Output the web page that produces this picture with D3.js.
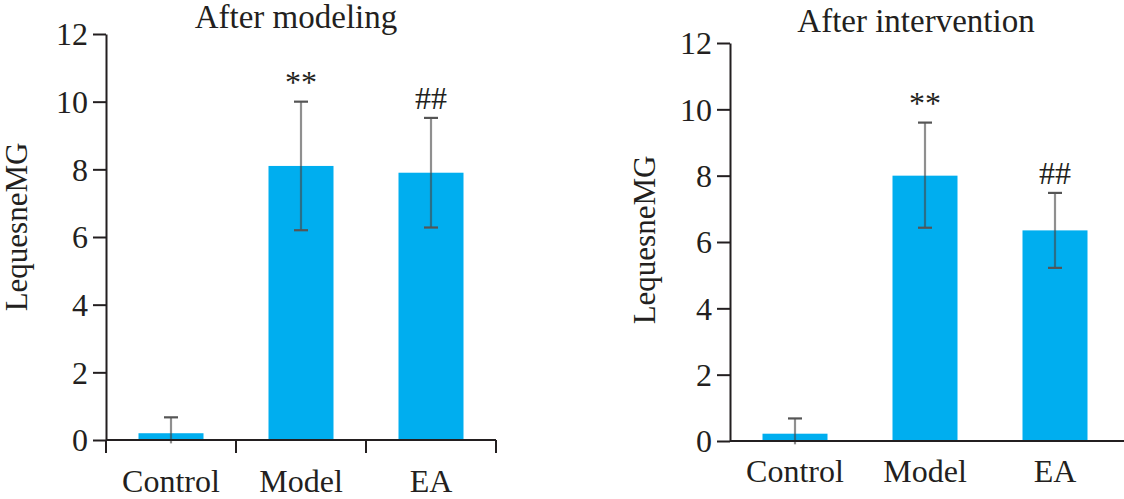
<!DOCTYPE html>
<html>
<head>
<meta charset="utf-8">
<script src="https://cdn.jsdelivr.net/npm/d3@7"></script>
<style>
  body { margin: 0; background: #fff; }
  svg text { font-family: "Liberation Serif", "Times New Roman", serif; fill: #231f20; }
  .axis path, .axis line { stroke: #231f20; stroke-width: 2; }
</style>
</head>
<body>
<div id="chart"></div>
<script>
// groups and values
var groups = ["Control", "Model", "EA"];
var yTicks = [0, 2, 4, 6, 8, 10, 12];

var modelingMean = [0.2, 8.1, 7.9];
var modelingLow = [-0.1, 6.2, 6.28];
var modelingHigh = [0.67, 10.0, 9.52];
var modelingMarks = ["", "**", "##"];

var interventionMean = [0.22, 8.0, 6.35];
var interventionLow = [-0.1, 6.43, 5.22];
var interventionHigh = [0.68, 9.6, 7.48];
var interventionMarks = ["", "**", "##"];

var serif = '"Liberation Serif", "Times New Roman", serif';

var svg = d3.select("#chart").append("svg")
    .attr("width", 1124)
    .attr("height", 499);

function drawPanel(p) {
    var x = d3.scaleBand().domain(groups).range([p.left, p.right]).paddingInner(0.5).paddingOuter(0.25);
    var y = d3.scaleLinear().domain([0, 12]).range([p.bottom, p.top]);
    var g = svg.append("g");

    var rows = groups.map(function(d, i) {
        return { name: d, mean: p.mean[i], low: p.low[i], high: p.high[i], mark: p.marks[i] };
    });

    // bars
    g.selectAll(".bar").data(rows).enter().append("rect")
        .attr("x", function(d) { return x(d.name); })
        .attr("width", x.bandwidth())
        .attr("y", function(d) { return y(d.mean); })
        .attr("height", function(d) { return y(0) - y(d.mean); })
        .attr("fill", "#00aeef");

    // error bars
    var err = g.selectAll(".err").data(rows).enter().append("g")
        .attr("transform", function(d) { return "translate(" + (x(d.name) + x.bandwidth() / 2) + ",0)"; });
    err.append("line")
        .attr("y1", function(d) { return y(d.low); })
        .attr("y2", function(d) { return y(d.high); })
        .attr("stroke", "#444").attr("stroke-opacity", 0.6).attr("stroke-width", 2.2);
    err.append("line")
        .attr("x1", -7).attr("x2", 7)
        .attr("y1", function(d) { return y(d.high); })
        .attr("y2", function(d) { return y(d.high); })
        .attr("stroke", "#555").attr("stroke-width", 2.2);
    err.filter(function(d) { return d.low > 0; }).append("line")
        .attr("x1", -7).attr("x2", 7)
        .attr("y1", function(d) { return y(d.low); })
        .attr("y2", function(d) { return y(d.low); })
        .attr("stroke", "#555").attr("stroke-width", 2.2);

    // significance marks
    err.append("text")
        .attr("y", function(d) { return y(d.high) - 9; })
        .attr("text-anchor", "middle")
        .style("font-size", "32px")
        .text(function(d) { return d.mark; });

    // y axis
    var yAxis = g.append("g").attr("class", "axis")
        .attr("transform", "translate(" + p.left + ",0)")
        .call(d3.axisLeft(y).tickValues(yTicks).tickSize(13).tickSizeOuter(0).tickPadding(5));
    yAxis.attr("font-family", serif);
    yAxis.selectAll("text")
        .style("font-family", serif)
        .style("font-size", "32px")
        .attr("dy", "0.34em");

    // x axis line
    g.append("line")
        .attr("x1", p.left).attr("x2", p.axisEnd)
        .attr("y1", y(0)).attr("y2", y(0))
        .attr("stroke", "#231f20").attr("stroke-width", 2);

    if (p.xTicks) {
        var bounds = d3.range(groups.length + 1).map(function(i) { return p.left + i * x.step(); });
        g.selectAll(".xt").data(bounds).enter().append("line")
            .attr("x1", function(d) { return d; }).attr("x2", function(d) { return d; })
            .attr("y1", y(0)).attr("y2", y(0) + 13)
            .attr("stroke", "#231f20").attr("stroke-width", 2);
    }

    g.selectAll(".xl").data(groups).enter().append("text")
        .attr("x", function(d) { return x(d) + x.bandwidth() / 2; })
        .attr("y", p.labelY)
        .attr("text-anchor", "middle")
        .style("font-size", "32px")
        .text(function(d) { return d; });

    g.append("text")
        .attr("x", p.titleX).attr("y", p.titleY)
        .attr("text-anchor", "middle")
        .style("font-size", "33px")
        .text(p.title);

    g.append("text")
        .attr("transform", "translate(" + p.yLabelX + "," + p.yLabelY + ") rotate(-90)")
        .attr("text-anchor", "middle")
        .style("font-size", "31px")
        .text("LequesneMG");
}

drawPanel({
    title: "After modeling", mean: modelingMean, low: modelingLow, high: modelingHigh, marks: modelingMarks,
    left: 106, right: 496, top: 34, bottom: 440, axisEnd: 496, xTicks: true,
    labelY: 492, titleX: 296, titleY: 28, yLabelX: 27, yLabelY: 227
});

drawPanel({
    title: "After intervention", mean: interventionMean, low: interventionLow, high: interventionHigh, marks: interventionMarks,
    left: 730, right: 1120, top: 43, bottom: 441, axisEnd: 1124, xTicks: false,
    labelY: 482, titleX: 916, titleY: 32, yLabelX: 655, yLabelY: 240
});
</script>
</body>
</html>
